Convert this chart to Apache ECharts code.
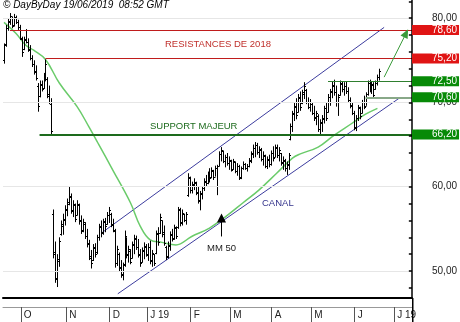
<!DOCTYPE html>
<html>
<head>
<meta charset="utf-8">
<script src="https://cdn.jsdelivr.net/npm/echarts@6/dist/echarts.min.js"></script>
<style>
html,body{margin:0;padding:0;background:#fff;overflow:hidden;}
#main{width:460px;height:322px;}
</style>
</head>
<body>
<div id="main"></div>
<script>
// jours de bourse : du 18/09/2018 au 11/07/2019 (les derniers sans cours)
var firstDay = '2018-09-18', lastDay = '2019-07-11';
var holidays = ['2018-12-25','2018-12-26','2019-01-01','2019-04-19','2019-04-22','2019-05-01'];

// cours [ouverture, plus haut, plus bas, clôture] jusqu'au 19/06/2019
var ohlc = [
[75.0,77.0,74.6,76.8],[76.9,79.2,76.6,78.8],[78.8,80.0,78.5,79.6],[79.5,80.6,79.2,80.2],[80.0,80.2,78.8,79.1],
[79.2,80.5,79.0,80.1],[80.0,80.3,79.3,79.5],[79.5,79.8,78.6,78.9],[78.9,79.2,77.4,77.6],[77.5,77.8,75.4,76.0],
[76.3,77.8,76.2,77.5],[77.4,78.7,77.0,77.2],[77.2,77.6,76.0,76.2],[76.3,76.8,75.0,75.3],[75.3,75.6,74.2,74.5],
[74.5,75.0,73.3,73.6],[73.7,74.4,72.6,72.9],[72.0,72.3,68.9,69.6],[70.8,72.6,70.6,72.2],[72.1,72.6,71.3,71.6],
[71.7,73.5,71.6,73.2],[73.0,75.1,72.5,74.6],[72.8,73.0,70.5,70.8],[71.0,72.0,69.8,70.1],[69.8,70.5,66.2,66.6],
[56.8,57.3,51.5,52.0],[52.3,53.5,48.6,49.2],[49.0,52.0,48.1,51.4],[51.2,54.0,50.5,53.6],[54.4,56.0,54.2,55.6],
[55.4,56.8,54.3,56.2],[56.0,57.8,55.4,57.4],[57.2,58.6,56.5,58.2],[58.0,60.0,57.8,58.8],[58.9,59.2,56.8,57.2],
[57.1,58.4,56.4,57.9],[57.8,58.0,55.8,56.2],[56.7,58.4,56.6,58.0],[57.8,58.0,55.5,55.9],[56.0,56.6,54.4,54.8],
[54.9,56.2,54.6,55.8],[55.6,55.8,53.8,54.1],[54.2,55.0,52.8,53.2],[53.3,53.7,51.3,51.8],[51.6,52.5,50.3,51.0],
[51.3,53.2,51.2,52.8],[52.7,53.3,51.6,52.0],[52.2,54.3,52.0,54.0],[54.0,55.6,53.6,55.2],[55.3,56.0,54.0,54.5],
[54.6,56.2,54.3,55.9],[55.8,56.3,54.6,55.4],[55.6,57.0,55.5,56.7],[56.6,57.6,55.7,57.2],[56.8,56.9,55.2,55.6],
[55.5,56.2,54.6,54.9],[54.8,55.0,50.4,50.9],[51.0,53.0,50.6,52.6],[52.0,52.2,50.0,50.4],[50.5,51.3,49.2,49.6],
[49.5,51.0,48.9,50.7],[50.8,54.8,50.5,54.2],[53.8,54.0,51.5,51.9],[52.0,53.0,51.0,52.6],[52.4,52.6,50.8,51.1],
[51.6,53.5,51.5,53.2],[53.1,54.3,52.0,53.9],[53.8,54.2,52.5,52.8],[52.9,53.8,51.6,51.9],[52.0,52.6,50.5,50.9],
[51.1,52.8,51.0,52.5],[52.4,53.4,51.4,53.0],[52.9,53.2,51.7,51.9],[52.0,53.3,51.2,52.9],[52.8,53.6,50.8,51.2],
[51.3,52.5,50.5,52.1],[52.0,52.0,50.6,50.9],[52.1,54.8,52.0,54.5],[54.4,55.2,53.0,53.4],[54.5,56.8,54.4,56.4],
[56.0,56.0,54.0,54.4],[54.6,55.4,53.0,53.3],[52.8,53.0,51.3,51.7],[51.8,53.5,51.5,53.1],[53.0,54.7,52.4,54.4],
[54.3,55.0,53.5,53.8],[53.9,55.5,53.7,55.2],[55.1,55.3,53.8,54.2],[55.2,57.6,55.0,57.3],[57.2,57.5,55.3,55.7],
[55.8,57.3,55.4,56.9],[56.8,56.8,55.8,56.0],[56.1,57.0,55.5,56.8],[59.0,61.6,58.8,61.2],[61.0,61.2,59.2,59.6],
[59.6,60.6,59.2,60.3],[60.2,61.0,59.6,60.6],[60.5,60.6,59.0,59.3],[59.4,60.0,58.0,58.3],[58.4,59.5,57.2,59.2],
[59.1,60.0,58.5,59.8],[59.8,61.0,59.5,60.7],[60.6,61.4,60.0,60.4],[60.5,61.8,60.3,61.5],[61.4,62.2,60.5,61.0],
[61.1,62.3,61.0,62.0],[61.9,62.0,60.8,61.1],[61.2,62.5,61.2,62.2],[62.2,62.6,59.0,62.4],[62.5,64.2,62.4,63.9],
[63.9,64.7,63.0,64.3],[64.2,64.3,62.8,63.1],[63.1,63.8,62.3,63.5],[63.5,64.0,62.5,62.8],[62.8,63.6,62.0,63.2],
[63.1,63.2,61.8,62.0],[62.1,63.3,62.0,63.0],[62.9,63.0,61.6,61.9],[61.9,62.8,61.3,62.5],[62.4,62.6,60.8,61.0],
[61.1,62.4,60.9,62.2],[62.2,63.0,62.0,62.7],[62.7,62.8,62.0,62.2],[62.2,62.7,61.8,62.5],[62.5,63.4,62.3,63.2],
[63.1,64.2,62.8,64.0],[63.9,65.0,63.4,64.6],[64.6,65.3,63.5,65.0],[65.0,65.2,63.8,64.1],[64.1,64.8,63.4,64.5],
[64.4,64.6,63.0,63.3],[63.3,64.2,62.5,63.8],[63.7,63.8,62.2,62.5],[62.5,63.6,62.1,63.3],[63.2,63.8,62.3,62.7],
[62.7,64.3,62.5,64.0],[64.0,64.8,63.0,63.4],[63.5,65.0,63.5,64.7],[64.6,65.0,63.4,63.8],[63.8,64.7,63.0,64.4],
[64.0,64.0,62.5,62.8],[62.9,63.6,62.0,63.2],[63.1,63.3,61.8,62.2],[62.2,63.0,61.4,62.7],[62.6,64.0,62.0,63.8],
[65.7,67.5,65.5,67.2],[67.2,69.0,66.5,68.7],[68.6,70.0,67.8,69.6],[69.5,70.5,68.0,68.5],[68.9,71.0,68.8,70.6],
[70.5,71.3,69.0,69.4],[69.9,71.5,69.8,71.2],[71.0,72.4,70.4,72.0],[71.5,71.6,69.8,70.1],[70.1,70.6,69.2,69.5],
[69.5,70.4,68.9,70.1],[69.8,70.0,68.5,68.8],[68.8,69.6,67.8,68.2],[68.3,69.0,67.3,68.7],[68.4,68.6,66.5,66.9],
[66.8,68.0,66.2,67.7],[67.6,68.5,66.5,68.2],[68.0,69.6,67.5,69.3],[69.3,70.0,67.8,68.2],[68.9,71.0,68.8,70.7],
[70.6,71.6,69.6,71.3],[71.2,72.5,70.5,72.1],[72.0,72.7,70.8,71.2],[71.2,72.0,69.5,70.0],[70.0,71.0,68.4,70.6],
[70.9,72.6,70.8,72.3],[72.2,72.5,71.2,71.6],[71.6,72.4,70.8,72.0],[72.0,72.5,71.0,71.3],[71.3,71.8,70.0,70.3],
[70.3,70.6,69.3,69.6],[69.7,70.0,68.5,68.8],[68.8,69.0,66.7,67.1],[67.0,68.5,66.6,68.2],[68.1,69.7,67.8,69.4],
[69.3,69.5,68.0,68.4],[68.8,70.3,68.7,70.0],[70.0,70.8,69.2,69.5],[69.6,71.2,69.6,71.0],[71.0,72.6,70.8,72.3],
[72.3,72.7,71.2,71.6],[71.6,72.5,71.0,72.2],[72.1,72.4,70.6,70.9],[71.6,72.6,71.5,72.3],[72.3,73.3,72.0,73.0],
[73.0,74.0,72.6,73.7]
];

// moyenne mobile 50 jours [jour, valeur]
var mm50 = [[0,79.5],[6,78.2],[11,76.8],[15,76.2],[21,75.1],[28,72.3],[37,69.5],[43,67.1],[48,65.0],
	[55,62.0],[64,58.1],[69,55.3],[74,53.7],[80,53.4],[87,53.1],[95,54.1],[104,55.1],[113,56.6],
	[121,58.1],[129,59.6],[138,61.6],[146,63.4],[150,63.9],[159,64.7],[167,66.1],[176,67.5],[183,68.6],[189,69.3]];

// canal haussier
var canalHaut = [[49.3,54.5],[192.4,78.9]];
var canalBas = [[57.6,47.3],[200,70.5]];

// niveaux
var resistances = [78.6, 75.2];
var resistStart = [3, 21];
var supports = [72.5, 70.6, 66.2];
var supportStart = [164, 183, 18];

// flèches
var flecheObjectif = [[192.4,73.0],[203.5,78.2]];
var flecheMM = [[110.1,54.1],[110.1,56.3]];

var yTicks = [48,50,52,54,56,58,60,62,64,66,68,70,72,74,76,78,80,82];
var yLabels = [50,60,70,80];
var monthLetters = ['J','F','M','A','M','J','J','A','S','O','N','D'];

function trading_days(start, end){
	var out = [];
	var d = new Date(start + 'T00:00:00Z'), e = new Date(end + 'T00:00:00Z');
	while(d <= e){
		var s = d.toISOString().slice(0,10);
		var wd = d.getUTCDay();
		if(wd != 0 && wd != 6 && holidays.indexOf(s) < 0){
			out.push(s);
		}
		d.setUTCDate(d.getUTCDate() + 1);
	}
	return out;
}

var dates = trading_days(firstDay, lastDay);
var xMax = dates.length - 0.5;

function month_start(index, value){
	return index > 0 && value.slice(5,7) != dates[index-1].slice(5,7);
}

function num_fr(v){
	return Number(v).toFixed(2).replace('.', ',');
}

// une ligne horizontale par niveau, du jour de départ jusqu'au bord droit
function level_lines(values, starts, styles){
	var arr = [];
	for(var i = 0; i < values.length; i++){
		var a = {coord:[starts[i], values[i]], name:num_fr(values[i])};
		if(styles && styles[i]) a.lineStyle = styles[i];
		arr.push([a, {coord:[xMax, values[i]]}]);
	}
	return arr;
}

// graduations intérieures de l'échelle de droite (3 px vers la gauche)
function tick_lines(values){
	var arr = [];
	for(var i = 0; i < values.length; i++){
		arr.push([{coord:[xMax - 1.6, values[i]]},{coord:[xMax, values[i]]}]);
	}
	return arr;
}

var bars = [];
for(var i = 0; i < ohlc.length; i++){
	bars.push([i, ohlc[i][0], ohlc[i][1], ohlc[i][2], ohlc[i][3]]);
}

var FONT = 'Liberation Sans';

function render_bar(params, api){
	var x = Math.round(api.coord([api.value(0), 0])[0]) + 0.5;
	var yO = Math.round(api.coord([0, api.value(1)])[1]) + 0.5;
	var yH = api.coord([0, api.value(2)])[1];
	var yL = api.coord([0, api.value(3)])[1];
	var yC = Math.round(api.coord([0, api.value(4)])[1]) + 0.5;
	var st = {stroke:'#000', lineWidth:1};
	return {type:'group', children:[
		{type:'line', shape:{x1:x, y1:yH, x2:x, y2:yL}, style:st},
		{type:'line', shape:{x1:x-1.5, y1:yO, x2:x, y2:yO}, style:st},
		{type:'line', shape:{x1:x, y1:yC, x2:x+1.5, y2:yC}, style:st}
	]};
}

var myChart = echarts.init(document.getElementById('main'), null, {renderer:'canvas'});

function level_label(bg){
	return {show:true, position:'end', distance:0, color:'#fff', backgroundColor:bg,
		fontFamily:FONT, fontSize:10, lineHeight:9, padding:[1,2,0,20], formatter:'{b}'};
}

var option = {
	animation:false,
	textStyle:{fontFamily:FONT},
	grid:{left:3, right:47, top:0, bottom:24},
	xAxis:[
		{type:'category', data:dates, boundaryGap:true, position:'bottom',
			axisLine:{onZero:false, lineStyle:{color:'#000', width:2}}, axisTick:{show:false}, axisLabel:{show:false}, splitLine:{show:false}},
		{type:'category', data:dates, boundaryGap:true, position:'bottom', offset:9,
			axisLine:{onZero:false, lineStyle:{color:'#999', width:1}},
			axisTick:{show:true, length:15, interval:month_start, lineStyle:{color:'#555'}},
			axisLabel:{show:true, interval:month_start, align:'left', margin:3, padding:[0,0,0,2],
				fontSize:10, color:'#222', fontFamily:FONT,
				formatter:function(v){
					var m = +v.slice(5,7);
					if(m == 1 || m == 7) return 'J ' + v.slice(2,4);
					return monthLetters[m-1];
				}},
			splitLine:{show:false}},
		{type:'value', min:-0.5, max:xMax, show:false}
	],
	yAxis:{type:'value', position:'right', min:46.8, max:82.15,
		axisLine:{show:false}, axisTick:{show:false},
		axisLabel:{customValues:yLabels, align:'right', margin:45, fontSize:10, color:'#222', fontFamily:FONT,
			formatter:function(v){ return num_fr(v); }},
		splitLine:{show:false}},
	series:[
		{type:'line', xAxisIndex:2, data:[], silent:true, z:1,
			markLine:{silent:true, symbol:'none', label:{show:false},
				lineStyle:{color:'#e6e6e6', width:1, type:'solid'},
				data:yLabels.map(function(v){ return {yAxis:v}; })}},
		{type:'line', xAxisIndex:2, data:canalHaut, symbol:'none', lineStyle:{color:'#3c3c9e', width:1}, z:3},
		{type:'line', xAxisIndex:2, data:canalBas, symbol:'none', lineStyle:{color:'#3c3c9e', width:1}, z:3},
		{type:'line', xAxisIndex:2, data:mm50, symbol:'none', smooth:0.4, lineStyle:{color:'#6acb6a', width:1.5}, z:3},
		{type:'custom', xAxisIndex:2, data:bars, renderItem:render_bar, z:4},
		// résistances
		{type:'line', xAxisIndex:2, data:[], z:5,
			markLine:{silent:true, symbol:'none', lineStyle:{color:'#c01c1c', width:1, type:'solid'},
				label:level_label('#e01414'), data:level_lines(resistances, resistStart)}},
		// supports
		{type:'line', xAxisIndex:2, data:[], z:5,
			markLine:{silent:true, symbol:'none', lineStyle:{color:'#2f7f2f', width:1, type:'solid'},
				label:level_label('#078a07'),
				data:level_lines(supports, supportStart, [null, {color:'#88a888', width:2}, {color:'#1d6b1d', width:2}])}},
		// flèches
		{type:'line', xAxisIndex:2, data:[], z:6,
			markLine:{silent:true, symbol:['none','triangle'], symbolSize:[8,9], label:{show:false},
				lineStyle:{color:'#3a9a3a', width:1, type:'solid'},
				data:[[{coord:flecheObjectif[0]},{coord:flecheObjectif[1]}]]}},
		{type:'line', xAxisIndex:2, data:[], z:6,
			markLine:{silent:true, symbol:['none','triangle'], symbolSize:[9,9], label:{show:false},
				lineStyle:{color:'#000', width:1, type:'solid'},
				data:[[{coord:flecheMM[0]},{coord:flecheMM[1]}]]}},
		// échelle de droite : trait vertical + graduations
		{type:'line', xAxisIndex:2, data:[], z:9,
			markLine:{silent:true, symbol:'none', label:{show:false},
				lineStyle:{color:'#000', width:1.5, type:'solid'},
				data:[{xAxis:xMax - 0.25}].concat(tick_lines(yTicks))}}
	],
	graphic:[
		{type:'text', left:3, top:0, style:{text:'© DayByDay 19/06/2019  08:52 GMT', font:'italic 10px "Liberation Sans"', fill:'#000'}},
		{type:'text', left:165, top:39, style:{text:'RESISTANCES DE 2018', font:'9.5px "Liberation Sans"', fill:'#c0302c'}},
		{type:'text', left:150, top:121, style:{text:'SUPPORT MAJEUR', font:'9.5px "Liberation Sans"', fill:'#1d6b1d'}},
		{type:'text', left:262, top:198, style:{text:'CANAL', font:'9.5px "Liberation Sans"', fill:'#34348c'}},
		{type:'text', left:207, top:243, style:{text:'MM 50', font:'9.5px "Liberation Sans"', fill:'#222'}},
		{type:'rect', left:412, top:298, z:100, shape:{x:0, y:0, width:1.5, height:24}, style:{fill:'#000'}}
	]
};

myChart.setOption(option);
</script>
</body>
</html>
